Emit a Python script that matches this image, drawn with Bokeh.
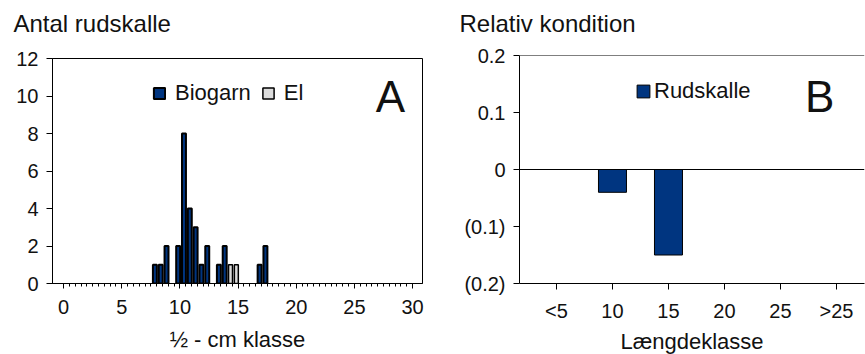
import math
from bokeh.plotting import figure
from bokeh.models import (Range1d, FixedTicker, Legend, LegendItem, Label, Span, Title,
                          ColumnDataSource, CustomJSTickFormatter)
from bokeh.transform import dodge
from bokeh.layouts import row
from bokeh.embed import file_html
from bokeh.resources import INLINE

FONT = "Liberation Sans"
TXT = "#111111"
NAVY = "#003580"
LIGHT = "#dcdcdc"

# ---------------- Panel A data ----------------
biogarn_class = [8.0, 8.5, 9.0, 10.0, 10.5, 11.0, 11.5, 12.0, 12.5, 13.5, 14.0, 17.0, 17.5]
biogarn_count = [1, 1, 2, 2, 8, 4, 3, 1, 2, 1, 2, 1, 2]
el_class = [14.5, 15.0]
el_count = [1, 1]
a_xticks = [0, 5, 10, 15, 20, 25, 30]
a_yticks = [0, 2, 4, 6, 8, 10, 12]

# ---------------- Panel B data ----------------
length_classes = ["<5", "10", "15", "20", "25", ">25"]
rel_condition = [float("nan"), -0.04, -0.15, float("nan"), float("nan"), float("nan")]
b_yticks = [-0.2, -0.1, 0, 0.1, 0.2]


def style_axes(p):
    for ax in (p.xaxis[0], p.yaxis[0]):
        ax.axis_line_color = "black"
        ax.major_tick_line_color = "black"
        ax.minor_tick_line_color = "black"
        ax.major_tick_in = 0
        ax.minor_tick_in = 0
        ax.major_label_text_font = FONT
        ax.major_label_text_font_size = "20px"
        ax.major_label_text_color = TXT
        ax.axis_label_text_font = FONT
        ax.axis_label_text_font_size = "22px"
        ax.axis_label_text_font_style = "normal"
        ax.axis_label_text_color = TXT
    p.xgrid.visible = False
    p.ygrid.visible = False
    p.background_fill_color = "white"
    p.border_fill_color = "white"


def add_title(p, text, offset, gap):
    # spacer between the real title and the frame (added first -> closest to frame)
    p.add_layout(Title(text=" ", standoff=gap, text_font_size="1px"), "above")
    p.add_layout(Title(text=text, align="left", offset=offset, standoff=0,
                       text_font=FONT, text_font_size="24px", text_font_style="normal",
                       text_color=TXT), "above")


# ================= Panel A =================
pa = figure(frame_width=370, frame_height=225, output_backend="svg", toolbar_location=None,
            x_range=Range1d(-0.95, 30.85), y_range=Range1d(0, 12), frame_align=False,
            min_border_left=52, min_border_right=13, min_border_top=58, min_border_bottom=71)
pa.title = None
add_title(pa, "Antal rudskalle", -39, 19)
style_axes(pa)
pa.outline_line_color = "black"
pa.outline_line_width = 1

src_b = ColumnDataSource(dict(x=biogarn_class, top=biogarn_count))
src_e = ColumnDataSource(dict(x=el_class, top=el_count))
r_bio = pa.vbar(x=dodge("x", -0.15, range=pa.x_range), top="top", width=0.34, bottom=0,
                source=src_b, fill_color=NAVY, line_color="black", line_width=2)
r_el = pa.vbar(x=dodge("x", -0.15, range=pa.x_range), top="top", width=0.34, bottom=0,
               source=src_e, fill_color=LIGHT, line_color="black", line_width=1.5)

pa.xaxis.ticker = FixedTicker(ticks=a_xticks, minor_ticks=[i * 0.5 for i in range(61)])
pa.xaxis.major_tick_out = 5
pa.xaxis.minor_tick_out = 3
pa.xaxis.major_label_standoff = 11
pa.xaxis.axis_label = "½ - cm klasse"
pa.xaxis.axis_label_standoff = 10
pa.yaxis.ticker = FixedTicker(ticks=a_yticks, minor_ticks=[])
pa.yaxis.major_tick_out = 6
pa.yaxis.major_label_standoff = 8

leg_a = Legend(items=[LegendItem(label="Biogarn", renderers=[r_bio]),
                      LegendItem(label="El", renderers=[r_el])],
               orientation="horizontal", location=(100, 177), padding=0, margin=0,
               spacing=10, label_standoff=9, glyph_width=14, glyph_height=14,
               border_line_color=None, background_fill_alpha=0,
               label_text_font=FONT, label_text_font_size="22px", label_text_color=TXT)
pa.add_layout(leg_a)
pa.add_layout(Label(x=28.1, y=9.97, text="A", text_align="center", text_baseline="middle",
                    text_font=FONT, text_font_size="44px", text_color=TXT))

# ================= Panel B =================
pb = figure(frame_width=345, frame_height=228, output_backend="svg", toolbar_location=None,
            x_range=Range1d(-0.66, 5.5), y_range=Range1d(-0.2, 0.2), frame_align=False,
            min_border_left=84, min_border_right=1, min_border_top=55, min_border_bottom=71)
pb.title = None
add_title(pb, "Relativ kondition", -60, 16)
style_axes(pb)
pb.outline_line_color = None

pos = list(range(len(length_classes)))
src_r = ColumnDataSource(dict(x=pos, top=rel_condition))
r_rud = pb.vbar(x="x", top="top", bottom=0, width=0.5, source=src_r,
                fill_color=NAVY, line_color="black", line_width=1)
pb.add_layout(Span(location=0, dimension="width", line_color="black", line_width=1))
pb.add_layout(Span(location=pb.y_range.end, dimension="width", line_color="black", line_width=1))

pb.xaxis.ticker = FixedTicker(ticks=pos, minor_ticks=[])
pb.xaxis.formatter = CustomJSTickFormatter(args=dict(labels=length_classes),
                                           code="const v = labels[Math.round(tick)]; return v === undefined ? '' : v;")
pb.xaxis.major_tick_out = 6
pb.xaxis.major_label_standoff = 10
pb.xaxis.axis_label = "Længdeklasse"
pb.xaxis.axis_label_standoff = 4
pb.yaxis.ticker = FixedTicker(ticks=b_yticks, minor_ticks=[])
pb.yaxis.formatter = CustomJSTickFormatter(
    code="if (Math.abs(tick) < 1e-9) return '0'; return tick < 0 ? '(' + (-tick).toFixed(1) + ')' : tick.toFixed(1);")
pb.yaxis.major_tick_out = 6
pb.yaxis.major_label_standoff = 8

leg_b = Legend(items=[LegendItem(label="Rudskalle", renderers=[r_rud])],
               orientation="horizontal", location=(116, 179), padding=0, margin=0,
               label_standoff=3, glyph_width=16, glyph_height=16,
               border_line_color=None, background_fill_alpha=0,
               label_text_font=FONT, label_text_font_size="22px", label_text_color=TXT)
pb.add_layout(leg_b)
pb.add_layout(Label(x=4.7, y=0.128, text="B", text_align="center", text_baseline="middle",
                    text_font=FONT, text_font_size="44px", text_color=TXT))

layout = row(pa, pb)
open("out.html", "w").write(file_html(layout, INLINE))
